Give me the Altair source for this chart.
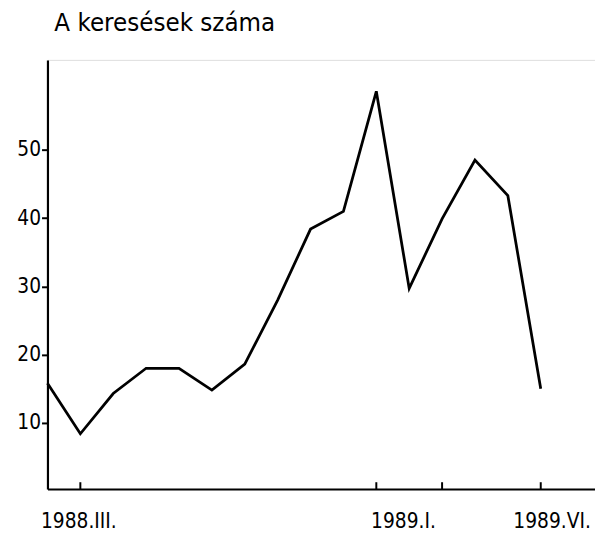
import altair as alt
import pandas as pd

idx = list(range(16))
values = [15.8, 8.4, 14.3, 18.0, 18.0, 14.8, 18.6, 28.0, 38.4, 41.0, 58.6, 29.7, 39.9, 48.5, 43.3, 15.0]
tick_pos = [1, 10, 12, 15]
label_pos = [1, 10, 15]

df = pd.DataFrame({"i": idx, "v": values})
ticks = pd.DataFrame({"i": tick_pos, "y0": [0.3] * 4, "y1": [1.3] * 4})

FONT = "DejaVu Sans Condensed"
label_expr = "datum.value == 1 ? '1988.III.' : datum.value == 10 ? '1989.I.' : datum.value == 15 ? '1989.VI.' : ''"

xscale = alt.Scale(domain=[0, 16.65], nice=False, zero=False)
yscale = alt.Scale(domain=[0.3, 63.2], nice=False, zero=False)

line = alt.Chart(df).mark_line(color="black", strokeWidth=2.8, strokeJoin="miter").encode(
    x=alt.X("i:Q", scale=xscale,
            axis=alt.Axis(values=label_pos, labelExpr=label_expr, title=None, grid=False,
                          ticks=False, domainColor="black", domainWidth=2.2,
                          labelFont=FONT, labelFontSize=21, labelColor="black",
                          labelPadding=22, labelFlush=False,
                          labelOffset={"condition": [{"test": "datum.value == 10", "value": 27},
                                                     {"test": "datum.value == 15", "value": 11}],
                                       "value": -2})),
    y=alt.Y("v:Q", scale=yscale,
            axis=alt.Axis(values=[10, 20, 30, 40, 50], title=None, grid=False,
                          tickColor="black", tickWidth=2, tickSize=6,
                          domainColor="black", domainWidth=2.2,
                          labelFont=FONT, labelFontSize=21, labelColor="black",
                          labelPadding=1)),
)

tk = alt.Chart(ticks).mark_rule(color="black", strokeWidth=2).encode(
    x=alt.X("i:Q", scale=xscale),
    y=alt.Y("y0:Q", scale=yscale),
    y2="y1:Q",
)

chart = alt.layer(line, tk).properties(
    width=555, height=435,
    title=alt.TitleParams("A keresések száma", anchor="start", frame="group", dx=7, offset=24,
                          font=FONT, fontSize=26, fontWeight="normal", color="black"),
    autosize=alt.AutoSizeParams(type="none"),
    padding={"left": 40, "top": 49, "right": 0, "bottom": 44},
).configure_view(stroke=None).configure(background="white")

chart.save("out.html", embed_options={"renderer": "svg", "actions": False})
